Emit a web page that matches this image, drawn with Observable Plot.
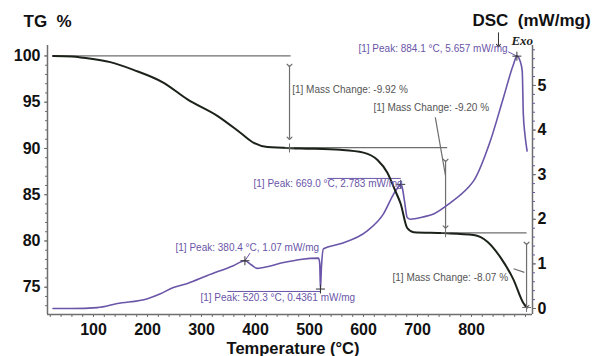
<!DOCTYPE html>
<html><head><meta charset="utf-8">
<script src="https://cdn.jsdelivr.net/npm/d3@7"></script>
<script src="https://cdn.jsdelivr.net/npm/@observablehq/plot@0.6"></script>
<style>body{margin:0;background:#fff}</style>
</head><body><div id="chart"></div>
<script>
// ---- data ----
const tgTemp = [25, 60, 82, 131, 174, 230, 274, 330, 372, 397, 422, 483, 557, 600, 626, 644, 659, 669, 681, 693, 748, 804, 830, 854, 878, 896, 903];
const tgMass = [100.0, 99.95, 99.8, 99.33, 98.5, 97.1, 95.3, 93.5, 91.7, 90.6, 90.15, 90.0, 89.85, 89.55, 88.75, 87.4, 85.4, 84.0, 81.4, 80.95, 80.85, 80.65, 79.9, 78.2, 75.8, 73.3, 72.81];
const dscTemp = [25, 60, 107, 144, 200, 224, 248, 274, 311, 359, 380.4, 392, 403, 415, 452, 483, 517, 519, 520.3, 522, 526, 557, 607, 637, 656, 663, 669, 672, 676, 681, 687, 710, 730, 761, 793, 804, 835, 859, 878, 884.1, 890, 894, 896, 899, 903];
const dscValue = [0.0, 0.0, 0.02, 0.11, 0.22, 0.33, 0.47, 0.56, 0.74, 0.96, 1.07, 0.98, 0.9, 0.92, 1.03, 1.1, 1.13, 1.0, 0.436, 0.9, 1.34, 1.45, 1.74, 2.12, 2.57, 2.7, 2.783, 2.7, 2.4, 2.04, 2.0, 2.05, 2.12, 2.37, 2.7, 2.86, 3.76, 4.72, 5.48, 5.657, 5.55, 5.32, 4.36, 3.9, 3.53];
const xTicks = [100, 200, 300, 400, 500, 600, 700, 800];
const tgTicks = [75, 80, 85, 90, 95, 100];
const dscTicks = [0, 1, 2, 3, 4, 5];
const massLabels = ["[1] Mass Change: -9.92 %", "[1] Mass Change: -9.20 %", "[1] Mass Change: -8.07 %"];
const massLabelT = [468, 618.5, 653.7];
const massLabelTG = [96.38, 94.43, 76.05];
const peakLabels = ["[1] Peak: 884.1 °C, 5.657 mW/mg", "[1] Peak: 669.0 °C, 2.783 mW/mg", "[1] Peak: 380.4 °C, 1.07 mW/mg", "[1] Peak: 520.3 °C, 0.4361 mW/mg"];
const peakLabelT = [590.7, 396.3, 251.9, 298.1];
const peakLabelTG = [100.81, 86.22, 79.30, 73.89];
const peakT = [884.1, 669.0, 380.4, 520.3];
const peakV = [5.657, 2.783, 1.07, 0.4361];

// ---- scales / mapping of DSC onto the TG axis ----
const X0 = 14.8, X1 = 913, Y0 = 72.05, Y1 = 101.13;
const toTG = v => 72.70 + 4.822 * v;
const fromTG = y => (y - 72.70) / 4.822;

const tg = tgTemp.map((t, i) => ({t, m: tgMass[i]}));
const dsc = dscTemp.map((t, i) => ({t, y: toTG(dscValue[i])}));
const massText = massLabels.map((s, i) => ({s, t: massLabelT[i], y: massLabelTG[i]}));
const peakText = peakLabels.map((s, i) => ({s, t: peakLabelT[i], y: peakLabelTG[i]}));
const peakPts = peakT.map((t, i) => ({t, y: toTG(peakV[i])}));

// annotation geometry (gray)
const hLines = [
  {x1: 30, y1: 100, x2: 465, y2: 100},
  {x1: 465, y1: 90.08, x2: 755, y2: 90.08},
  {x1: 752, y1: 80.88, x2: 902, y2: 80.88},
  {x1: 733, y1: 93.35, x2: 751.8, y2: 87.1},
  {x1: 878, y1: 77.0, x2: 898, y2: 76.6}
];
const arrows = [
  {x1: 463, y1: 98.97, x2: 463, y2: 91.1},
  {x1: 752, y1: 88.7, x2: 752, y2: 81.5},
  {x1: 902, y1: 79.73, x2: 902, y2: 72.9}
];
const crossPts = [{t: 463, y: 90.05}, {t: 752, y: 80.88}, {t: 902, y: 72.81}];
// purple leader lines
const peakLines = [
  {x1: 868, y1: 100.45, x2: 884.1, y2: toTG(5.657)},
  {x1: 533, y1: 86.76, x2: 669, y2: 86.76},
  {x1: 390, y1: 78.69, x2: 380.4, y2: toTG(1.07)},
  {x1: 348, y1: 74.54, x2: 520.3, y2: 74.54}
];

const gray = "#6e6e6e";
const purple = "#6a55a8";
const bold = {fontWeight: "bold"};

const chart = Plot.plot({
  width: 596, height: 356,
  marginLeft: 47, marginRight: 64, marginTop: 45, marginBottom: 42,
  x: {domain: [X0, X1]},
  y: {domain: [Y0, Y1]},
  style: {fontFamily: "'Liberation Sans', Arial, sans-serif", background: "#fff", overflow: "visible"},
  marks: [
    // frame lines
    Plot.ruleX([X0], {stroke: gray, strokeWidth: 1.5}),
    Plot.ruleX([X1], {stroke: gray, strokeWidth: 1.5}),
    Plot.ruleY([Y0], {stroke: gray, strokeWidth: 1.5}),
    // bottom axis
    Plot.axisX(d3.range(20, 901, 20), {tickSize: 3, tickFormat: () => "", stroke: gray, label: null}),
    Plot.axisX(xTicks, {tickSize: 0, tickPadding: 9, fontSize: 16, fontWeight: "bold", fill: "#111", label: null}),
    // left axis
    Plot.axisY(d3.range(73, 101, 1), {anchor: "left", tickSize: 2, tickFormat: () => "", stroke: gray, label: null}),
    Plot.axisY(tgTicks, {anchor: "left", tickSize: 3, tickPadding: 4, fontSize: 16, fontWeight: "bold", fill: "#111", stroke: gray, label: null}),
    // right axis (DSC)
    Plot.axisY(d3.range(0, 5.81, 0.2).map(toTG), {anchor: "right", tickSize: 2, tickFormat: () => "", stroke: purple, label: null}),
    Plot.axisY(dscTicks.map(toTG), {anchor: "right", tickSize: 3, tickPadding: 2, fontSize: 16, fontWeight: "bold", fill: "#111", stroke: gray, label: null, tickFormat: d => String(Math.round(fromTG(d)))}),
    // annotations
    Plot.link(hLines, {x1: "x1", y1: "y1", x2: "x2", y2: "y2", stroke: gray, strokeWidth: 1.2}),
    Plot.link(arrows, {x1: "x1", y1: "y1", x2: "x2", y2: "y2", stroke: gray, strokeWidth: 1.2, markerStart: "arrow", markerEnd: "arrow"}),
    Plot.link(peakLines, {x1: "x1", y1: "y1", x2: "x2", y2: "y2", stroke: purple, strokeWidth: 1}),
    // curves
    Plot.line(dsc, {x: "t", y: "y", stroke: purple, strokeWidth: 1.6, curve: "monotone-x"}),
    Plot.line(tg, {x: "t", y: "m", stroke: "#1b2219", strokeWidth: 2, curve: "monotone-x"}),
    Plot.dot(crossPts, {x: "t", y: "y", symbol: "plus", r: 3, stroke: gray, strokeWidth: 1}),
    Plot.dot(peakPts, {x: "t", y: "y", symbol: "plus", r: 3, stroke: "#333", strokeWidth: 1}),
    // labels
    Plot.text(massText, {x: "t", y: "y", text: "s", textAnchor: "start", fontSize: 10, fill: "#555"}),
    Plot.text(peakText, {x: "t", y: "y", text: "s", textAnchor: "start", fontSize: 10, fill: purple}),
    // Exo
    Plot.link([{x1: 850, y1: 102.55, x2: 850, y2: 101.15}], {x1: "x1", y1: "y1", x2: "x2", y2: "y2", stroke: "#333", strokeWidth: 1, markerEnd: "arrow"}),
    Plot.text(["Exo"], {x: 874, y: 101.68, textAnchor: "start", lineAnchor: "middle", fontSize: 13, fontWeight: "bold", fontStyle: "italic", fontFamily: "'Liberation Serif', serif", fill: "#222"}),
    // titles
    Plot.text(["TG\u00a0 %"], {frameAnchor: "top-left", lineAnchor: "middle", dx: -24, dy: -24, textAnchor: "start", fontSize: 17, ...bold, fill: "#111"}),
    Plot.text(["DSC\u00a0 (mW/mg)"], {frameAnchor: "top-right", lineAnchor: "middle", dx: -60, dy: -25, textAnchor: "start", fontSize: 17, ...bold, fill: "#111"}),
    Plot.text(["Temperature (°C)"], {frameAnchor: "bottom", lineAnchor: "middle", dx: 3, dy: 34, fontSize: 16.5, ...bold, fill: "#111"})
  ]
});
document.getElementById("chart").append(chart);
</script>
</body></html>
